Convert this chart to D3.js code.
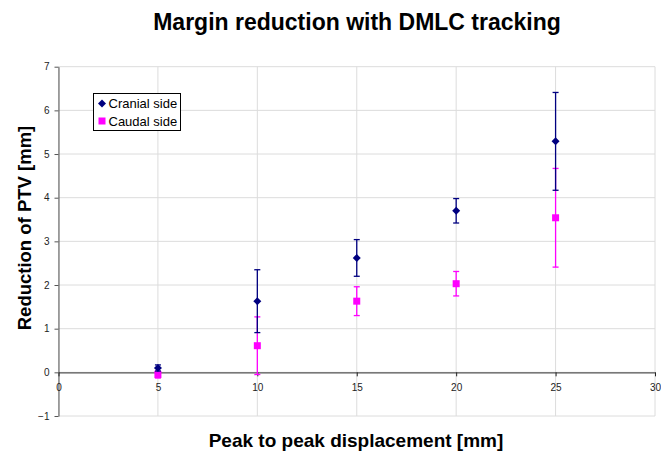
<!DOCTYPE html>
<html>
<head>
<meta charset="utf-8">
<script src="https://cdn.jsdelivr.net/npm/d3@7"></script>
<style>
  html, body { margin: 0; padding: 0; background: #fff; }
  svg { display: block; font-family: Arial, "Liberation Sans", sans-serif; }
</style>
</head>
<body>
<svg id="chart" width="661" height="453"></svg>
<script>
// Peak-to-peak displacement (mm)
const displacement = [5, 10, 15, 20, 25];

// Cranial side: mean reduction and error half-width (mm)
const cranialMean = [0.10, 1.63, 2.62, 3.70, 5.29];
const cranialErr  = [0.07, 0.72, 0.42, 0.28, 1.12];

// Caudal side: mean reduction and error half-width (mm)
const caudalMean = [-0.05, 0.61, 1.63, 2.03, 3.54];
const caudalErr  = [0.08, 0.66, 0.33, 0.28, 1.13];

const xTicks = [0, 5, 10, 15, 20, 25, 30];
const yTicks = [-1, 0, 1, 2, 3, 4, 5, 6, 7];

const svg = d3.select("#chart");
const x = d3.scaleLinear().domain([0, 30]).range([58.5, 655]);
const y = d3.scaleLinear().domain([-1, 7]).range([416, 66.7]);

// Title
svg.append("text")
  .attr("x", 357).attr("y", 30)
  .attr("text-anchor", "middle")
  .attr("font-size", 23).attr("font-weight", "bold")
  .text("Margin reduction with DMLC tracking");

// Gridlines
const grid = svg.append("g");
grid.selectAll(".hg").data(yTicks).join("line")
  .attr("x1", x(0)).attr("x2", x(30))
  .attr("y1", d => y(d)).attr("y2", d => y(d))
  .attr("stroke", "#dcdcdc").attr("stroke-width", 1);
grid.selectAll(".vg").data(xTicks).join("line")
  .attr("x1", d => x(d)).attr("x2", d => x(d))
  .attr("y1", y(7)).attr("y2", y(-1))
  .attr("stroke", "#dcdcdc").attr("stroke-width", 1);

// Y axis
const yAxis = d3.axisLeft(y).tickValues(yTicks).tickSize(4).tickSizeOuter(0).tickPadding(5);
const gy = svg.append("g").attr("transform", `translate(${x(0)},0)`).call(yAxis);
gy.select(".domain").attr("stroke", "#555");
gy.selectAll(".tick line").attr("stroke", "#555");
gy.selectAll(".tick text").attr("font-size", 10).attr("fill", "#222")
  .attr("font-family", "Arial, 'Liberation Sans', sans-serif");

// X axis crossing at y = 0
const xAxis = d3.axisBottom(x).tickValues(xTicks).tickSize(4).tickSizeOuter(0).tickPadding(8);
const gx = svg.append("g").attr("transform", `translate(0,${y(0)})`).call(xAxis);
gx.select(".domain").attr("stroke", "#555").attr("stroke-width", 1.2);
gx.selectAll(".tick line").attr("stroke", "#222");
gx.selectAll(".tick text").attr("font-size", 10).attr("fill", "#222")
  .attr("font-family", "Arial, 'Liberation Sans', sans-serif");

// Axis titles
svg.append("text")
  .attr("x", 356).attr("y", 447)
  .attr("text-anchor", "middle")
  .attr("font-size", 19).attr("font-weight", "bold")
  .text("Peak to peak displacement [mm]");
svg.append("text")
  .attr("transform", "translate(31,228) rotate(-90)")
  .attr("text-anchor", "middle")
  .attr("font-size", 18.5).attr("font-weight", "bold")
  .text("Reduction of PTV [mm]");

// Error bars and markers
function series(means, errs, color, cls) {
  const rows = displacement.map((d, i) => ({ x: d, m: means[i], e: errs[i] }));
  const g = svg.append("g").attr("class", cls);
  g.selectAll(".bar").data(rows).join("line")
    .attr("x1", d => x(d.x)).attr("x2", d => x(d.x))
    .attr("y1", d => y(d.m + d.e)).attr("y2", d => y(d.m - d.e))
    .attr("stroke", color).attr("stroke-width", 1.3);
  [1, -1].forEach(s => {
    g.selectAll(".cap" + s).data(rows).join("line")
      .attr("x1", d => x(d.x) - 3).attr("x2", d => x(d.x) + 3)
      .attr("y1", d => y(d.m + s * d.e)).attr("y2", d => y(d.m + s * d.e))
      .attr("stroke", color).attr("stroke-width", 1.3);
  });
  return { g, rows };
}

const cau = series(caudalMean, caudalErr, "#ff00ff", "caudal");
const cra = series(cranialMean, cranialErr, "#000080", "cranial");

cau.g.selectAll(".pt").data(cau.rows).join("rect")
  .attr("x", d => x(d.x) - 3.5).attr("y", d => y(d.m) - 3.5)
  .attr("width", 7).attr("height", 7)
  .attr("fill", "#ff00ff");

// Diamond marker, slightly wider than tall
const diamond = "M0,-4L4,0L0,4L-4,0Z";
cra.g.selectAll(".pt").data(cra.rows).join("path")
  .attr("transform", d => `translate(${x(d.x)},${y(d.m)})`)
  .attr("d", diamond)
  .attr("fill", "#000080");

// Legend
const lg = svg.append("g").attr("transform", "translate(93.5,93.5)");
lg.append("rect").attr("width", 87).attr("height", 37)
  .attr("fill", "#fff").attr("stroke", "#000").attr("stroke-width", 1);
lg.append("path").attr("transform", "translate(8.5,10)")
  .attr("d", diamond).attr("fill", "#000080");
lg.append("text").attr("x", 15).attr("y", 14.5).attr("font-size", 13).text("Cranial side");
lg.append("rect").attr("x", 5).attr("y", 24).attr("width", 7).attr("height", 7)
  .attr("fill", "#ff00ff");
lg.append("text").attr("x", 15).attr("y", 32.5).attr("font-size", 13).text("Caudal side");
</script>
</body>
</html>
